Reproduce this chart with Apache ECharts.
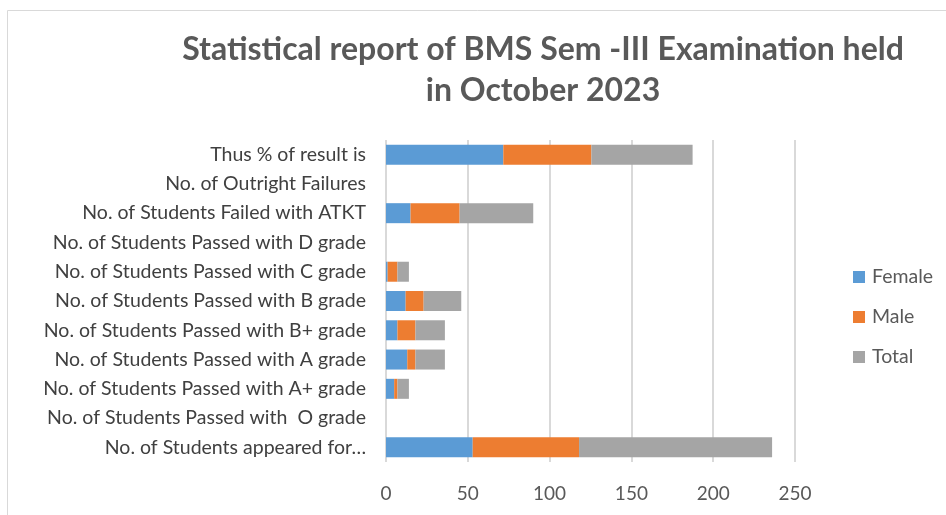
<!DOCTYPE html>
<html>
<head>
<meta charset="utf-8">
<script src="https://cdn.jsdelivr.net/npm/echarts@6/dist/echarts.min.js"></script>
<style>
  html, body { margin: 0; padding: 0; background: #fff; }
  #chart { width: 946px; height: 515px; }
</style>
</head>
<body>
<div id="chart"></div>
<script>
// Data (bottom to top, as ECharts draws category axes)
const categories = [
  'No. of Students appeared for…',
  'No. of Students Passed with  O grade',
  'No. of Students Passed with A+ grade',
  'No. of Students Passed with A grade',
  'No. of Students Passed with B+ grade',
  'No. of Students Passed with B grade',
  'No. of Students Passed with C grade',
  'No. of Students Passed with D grade',
  'No. of Students Failed with ATKT',
  'No. of Outright Failures',
  'Thus % of result is'
];
const female = [53, 0, 5, 13, 7, 12, 1, 0, 15, 0, 71.7];
const male = [65, 0, 2, 5, 11, 11, 6, 0, 30, 0, 53.85];
const total = [118, 0, 7, 18, 18, 23, 7, 0, 45, 0, 61.86];
const xTicks = [0, 50, 100, 150, 200, 250];

const chart = echarts.init(document.getElementById('chart'));
const font = 'Lato, "Open Sans", sans-serif';

const bar = (name, data, color) => ({
  name, type: 'bar', stack: 'all', data,
  barWidth: 20,
  itemStyle: { color },
  emphasis: { disabled: true }
});

chart.setOption({
  animation: false,
  textStyle: { fontFamily: font },
  title: {
    text: 'Statistical report of BMS Sem -III Examination held\nin October 2023',
    left: 538, top: 24, textAlign: 'center',
    textStyle: { fontSize: 32, fontWeight: 'bold', color: '#595959', lineHeight: 41, fontFamily: font }
  },
  graphic: [{
    type: 'rect', left: 5, top: 8,
    shape: { width: 980, height: 560 },
    style: { fill: 'none', stroke: '#d9d9d9', lineWidth: 1 },
    silent: true, z: -1
  }],
  legend: {
    orient: 'vertical', left: 848, top: 262,
    itemWidth: 12, itemHeight: 12, itemGap: 20,
    icon: 'rect',
    textStyle: { fontSize: 19.5, color: '#595959', padding: [0, 0, 0, 2] },
    data: ['Female', 'Male', 'Total']
  },
  grid: { left: 386, right: 151, top: 140, bottom: 53, containLabel: false },
  xAxis: {
    type: 'value', min: xTicks[0], max: xTicks[xTicks.length - 1], interval: 50,
    axisLine: { show: false }, axisTick: { show: false },
    axisLabel: { fontSize: 19, color: '#595959', margin: 22 },
    splitLine: { lineStyle: { color: '#d9d9d9', width: 2 } }
  },
  yAxis: {
    type: 'category', data: categories,
    axisLine: { show: false }, axisTick: { show: false },
    axisLabel: { fontSize: 19.5, color: '#404040', margin: 20 }
  },
  series: [
    bar('Female', female, '#5b9bd5'),
    bar('Male', male, '#ed7d31'),
    bar('Total', total, '#a5a5a5')
  ]
});
</script>
</body>
</html>
